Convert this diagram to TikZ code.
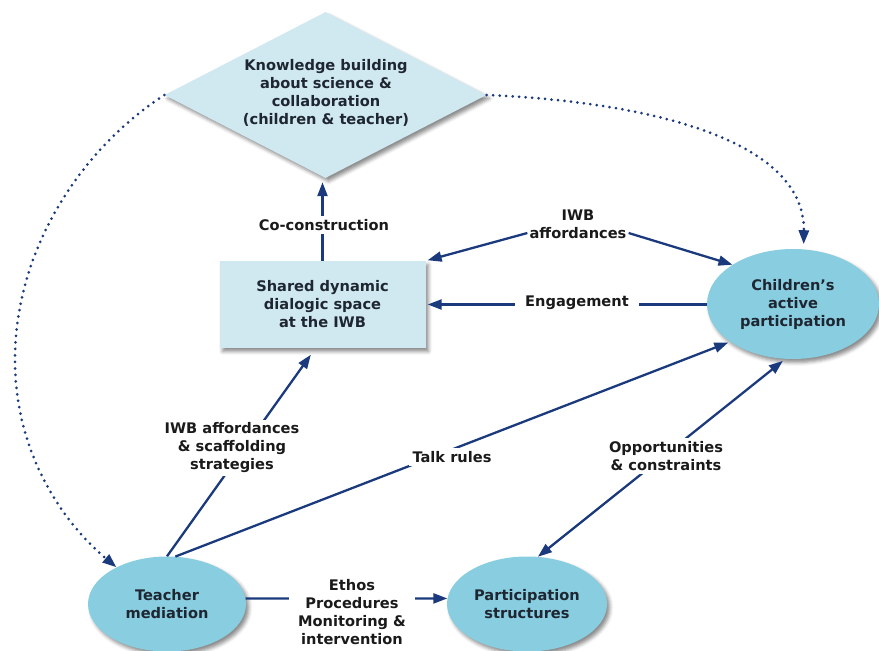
\documentclass[tikz,border=0pt]{standalone}
\usepackage{fontspec}
\setmainfont{DejaVu Sans}
\usetikzlibrary{arrows.meta,shapes.geometric,shadows.blur}

\definecolor{navy}{HTML}{1B3A7E}
\definecolor{paleblue}{HTML}{D0E9F1}
\definecolor{skyblue}{HTML}{88CDE0}
\definecolor{nodeink}{HTML}{1E2631}
\definecolor{labelink}{HTML}{1A1A1A}

\begin{document}
\begin{tikzpicture}[x=1pt,y=-1pt,
	font=\fontsize{14.6}{18}\selectfont\bfseries,
	>={Triangle[length=14pt,width=10pt]}]
						\tikzstyle{every node}+=[inner sep=0pt, align=center, text=nodeink]
						\tikzstyle{soft}=[blur shadow={shadow xshift=3pt, shadow yshift=-3.5pt, shadow blur radius=3.5pt, shadow opacity=45}]
						\tikzstyle{pale}=[soft, fill=paleblue]
						\tikzstyle{oval}=[soft, ellipse, fill=skyblue]
						\tikzstyle{link}=[navy, line width=2.3pt]
						\tikzstyle{dots}=[navy, line width=3pt, line cap=round, dash pattern=on 0pt off 6.5pt]
						\tikzstyle{lbl}=[fill=white, text=labelink, inner xsep=4pt, inner ysep=3pt]
						\useasboundingbox (0,0) rectangle (879,651);
						\node [pale, diamond, minimum width=322pt, minimum height=166pt] (know) at (325.5,95) {};
						\node (knowtext) at (326,92.5) {Knowledge building\\about science \&\\collaboration\\(children \& teacher)};
						\node [pale, rectangle, minimum width=206pt, minimum height=87pt] (shared) at (322.5,304.5) {Shared dynamic\\dialogic space\\at the IWB};
						\node [oval, minimum width=172pt, minimum height=110pt] (children) at (793,304) {Children's\\active\\participation};
						\node [oval, minimum width=158pt, minimum height=95pt] (teacher) at (167,604) {Teacher\\mediation};
						\node [oval, minimum width=160pt, minimum height=95pt] (structures) at (527,604) {Participation\\structures};
						\draw [link,->,shorten >=4pt] (shared.north) -- (shared.north |- know.south);
						\node [text=labelink] (aff) at (578,224) {IWB\\affordances};
						\draw [link,->,shorten >=2pt] ([yshift=-9pt,xshift=-2pt]aff.west) -- (shared.north east);
						\draw [link,->] ([yshift=-9pt,xshift=2pt]aff.east) -- (children.147);
						\draw [link,->,shorten >=2pt] (children.west |- shared.east) -- (shared.east);
						\draw [link,->,shorten >=8pt] (teacher.90) -- ([xshift=-7pt]shared.south);
						\draw [link,->,shorten >=2pt] (teacher.80) -- (children.211);
						\draw [link,<->,shorten >=3pt] (structures.77) -- (children.262);
						\draw [link,->] (teacher.4) -- (structures.176);
						\draw [dots,->] (know.west) .. controls (80,150) and (15,250) .. (15,360) .. controls (15,450) and (60,520) .. (teacher.144);
						\draw [dots,->,shorten >=5pt] (know.east) .. controls (650,102) and (805,140) .. (children.79);
						\node [lbl] (coc) at (324,225) {Co-construction};
						\node [lbl, inner xsep=10pt] (eng) at (577,303) {Engagement};
						\node [lbl] (scaf) at (232,448) {IWB affordances\\\& scaffolding\\strategies};
						\node [lbl] (talk) at (452,457) {Talk rules};
						\node [lbl] (opp) at (666,456) {Opportunities\\\& constraints};
						\node [lbl, inner xsep=9pt] (ethos) at (352,612) {Ethos\\Procedures\\Monitoring \&\\intervention};
					\end{tikzpicture}
\end{document}
